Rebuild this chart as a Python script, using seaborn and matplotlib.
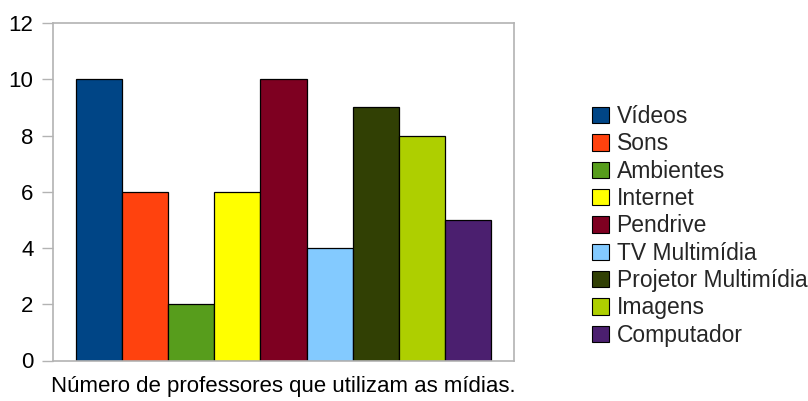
import matplotlib
matplotlib.use("Agg")
import matplotlib.pyplot as plt
from matplotlib.patches import Patch
import seaborn as sns
import pandas as pd

# Survey data: how many teachers use each kind of media
midias = ["Vídeos", "Sons", "Ambientes", "Internet", "Pendrive",
          "TV Multimídia", "Projetor Multimídia", "Imagens", "Computador"]
professores = [10, 6, 2, 6, 10, 4, 9, 8, 5]
cores = ["#004586", "#ff420e", "#579d1c", "#ffff00", "#7e0021",
         "#83caff", "#314004", "#aecf00", "#4b1f6f"]
grupo = "Número de professores que utilizam as mídias."
y_ticks = [0, 2, 4, 6, 8, 10, 12]

df = pd.DataFrame({"grupo": [grupo] * len(midias),
                   "midia": midias,
                   "professores": professores})

sns.set_theme(style="white")
plt.rcParams["font.family"] = ["Liberation Sans", "DejaVu Sans"]

fig = plt.figure(figsize=(8.08, 4.01), dpi=100)
ax = fig.add_axes([53 / 808, 1 - 360.5 / 401, (514 - 53) / 808, (360.5 - 23) / 401])

sns.barplot(data=df, x="grupo", y="professores", hue="midia",
            hue_order=midias, palette=cores, width=0.9, dodge=True,
            edgecolor="black", linewidth=0.9, saturation=1,
            legend=False, ax=ax)

fs = 16
grey = "#b3b3b3"
ax.set_xlim(-0.5, 0.5)
ax.set_ylim(0, 12)
ax.set_yticks(y_ticks)
ax.set_yticklabels([str(v) for v in y_ticks], fontsize=fs, color="black")
ax.set_xlabel("")
ax.set_ylabel("")
ax.set_xticks([0])
ax.set_xticklabels([grupo], fontsize=fs, color="black")
ax.set_xticks([-0.5, 0.5], minor=True)
ax.tick_params(axis="x", which="major", length=0, pad=11)
ax.tick_params(axis="x", which="minor", length=8, width=1, color=grey, direction="out")
ax.tick_params(axis="y", which="major", length=8, width=1, color=grey,
               direction="out", pad=6, left=True)
for s in ax.spines.values():
    s.set_color(grey)
    s.set_linewidth(1.2)
    s.set_visible(True)

handles = [Patch(facecolor=c, edgecolor="black", linewidth=0.8) for c in cores]
fig.legend(handles, midias, loc="upper left",
           bbox_to_anchor=(592 / 808, 1 - 105 / 401),
           frameon=False, fontsize=16.5, handlelength=0.72, handleheight=0.72,
           handletextpad=0.35, labelspacing=0.19, borderaxespad=0, borderpad=0)

fig.savefig("out.png", dpi=100)
